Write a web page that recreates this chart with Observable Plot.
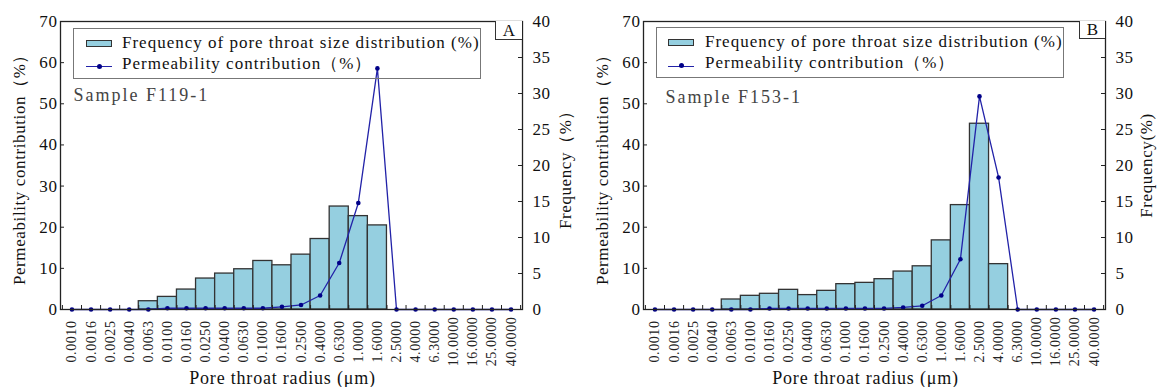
<!DOCTYPE html>
<html>
<head>
<meta charset="utf-8">
<script src="https://cdn.jsdelivr.net/npm/d3@7"></script>
<script src="https://cdn.jsdelivr.net/npm/@observablehq/plot@0.6"></script>
<style>
  body { margin: 0; background: #fff; }
  #wrap { position: relative; width: 1158px; height: 387px; font-family: "Liberation Serif", "Times New Roman", serif; color: #111; overflow: hidden; }
  .panel { position: absolute; top: 0; width: 579px; height: 387px; }
  .abs { position: absolute; box-sizing: border-box; }
  .lbox { border: 1.5px solid #777; background: transparent; }
  .ltxt { font-size: 17px; line-height: 20px; height: 20px; white-space: nowrap; color: #111; letter-spacing: 1px; }
  .sw { background: #95cfe0; border: 1.3px solid #333; }
  .lline { border-top: 1.4px solid #2222a8; height: 0; }
  .ldot { width: 5px; height: 5px; border-radius: 50%; background: #000088; }
  .tag { border-left: 1.2px solid #333; border-bottom: 1.2px solid #333; background: #fff; font-size: 17px; text-align: center; color: #111; }
  svg text { letter-spacing: 0.6px; }
</style>
</head>
<body>
<div id="wrap">
  <div class="panel" id="pA" style="left:0px"></div>
  <div class="panel" id="pB" style="left:579px"></div>
</div>
<script>
// ---- data ----
const categories = ["0.0010","0.0016","0.0025","0.0040","0.0063","0.0100","0.0160","0.0250","0.0400","0.0630","0.1000","0.1600","0.2500","0.4000","0.6300","1.0000","1.6000","2.5000","4.0000","6.3000","10.0000","16.0000","25.0000","40.0000"];
// Sample F119-1
const freqA = [0,0,0,0,1.15,1.75,2.77,4.3,4.99,5.59,6.74,6.14,7.62,9.79,14.3,12.97,11.68,0,0,0,0,0,0,0];
const permA = [0,0,0,0,0,0.3,0.3,0.3,0.3,0.3,0.3,0.65,1.1,3.4,11.3,25.9,58.6,0,0,0,0,0,0,0];
// Sample F153-1
const freqB = [0,0,0,0,1.39,1.9,2.18,2.73,2.0,2.59,3.52,3.7,4.21,5.27,6.0,9.6,14.5,25.8,6.3,0,0,0,0,0];
const permB = [0,0,0,0,0,0,0.25,0.25,0.25,0.25,0.25,0.25,0.25,0.5,0.9,3.4,12.2,51.8,32.1,0,0,0,0,0];
const leftTicks = [0,10,20,30,40,50,60,70];
const rightTicks = [0,5,10,15,20,25,30,35,40];
const legendFreq = "Frequency of pore throat size distribution (%)";
const legendPerm = "Permeability contribution（%）";
const xTitle = "Pore throat radius (μm)";
const yTitle = "Permeability contribution（%）";

const K = 70 / 40; // right (frequency) axis -> left axis units
const BAR = "#95cfe0", LINE = "#2222a8", DOT = "#000088", INK = "#222";

function panel(el, freq, perm, cfg) {
  const W = 579, H = 387, mt = 21, mb = 78;
  const FW = W - cfg.ml - cfg.mr, FH = H - mt - mb;
  const rows = categories.map((c, i) => ({i, cat: c, f: freq[i], p: perm[i]}));
  const bars = rows.filter(d => d.f > 0);
  const bounds = d3.range(0, categories.length + 1).map(i => i - 0.5);

  // legend box and letter tag (HTML, beneath the chart so the data line shows over it)
  const add = (cls, style, text) => {
    const d = document.createElement("div");
    d.className = "abs " + cls;
    Object.assign(d.style, style);
    if (text) d.textContent = text;
    el.appendChild(d);
    return d;
  };

  const chart = Plot.plot({
    width: W, height: H,
    marginLeft: cfg.ml, marginRight: cfg.mr, marginTop: mt, marginBottom: mb,
    style: {fontFamily: '"Liberation Serif", "Times New Roman", serif', fontSize: "17px", color: "#111", background: "transparent", overflow: "visible", position: "absolute", left: "0px", top: "0px"},
    x: {type: "linear", domain: [-0.6, 23.6], axis: null},
    y: {domain: [0, 70], axis: null},
    marks: [
      Plot.rect(bars, {x1: d => d.i - 0.5, x2: d => d.i + 0.5, y1: 0, y2: d => d.f * K, fill: BAR, stroke: "#333", strokeWidth: 1.3}),
      Plot.line(rows, {x: "i", y: "p", stroke: LINE, strokeWidth: 1.3}),
      Plot.dot(rows, {x: "i", y: "p", r: 2.3, fill: DOT, stroke: null}),
      Plot.tickY(leftTicks, {y: d => d, insetRight: FW - 4, stroke: INK}),
      Plot.tickY(rightTicks, {y: d => d * K, insetLeft: FW - 4, stroke: INK}),
      Plot.tickX(bounds, {x: d => d, insetTop: FH - 4, stroke: INK}),
      Plot.frame({stroke: INK, strokeWidth: 1.3}),
      Plot.axisY({anchor: "left", ticks: leftTicks, tickSize: 0, tickPadding: 3, label: null, fontSize: 17}),
      Plot.axisY({anchor: "right", ticks: rightTicks.map(v => v * K), tickFormat: d => String(Math.round(d / K)), tickSize: 0, tickPadding: 10, label: null, fontSize: 17}),
      Plot.text(rows, {x: "i", text: "cat", frameAnchor: "bottom", rotate: -90, textAnchor: "middle", lineAnchor: "middle", dy: 32, fontSize: 14, fill: "#222"}),
      Plot.text([yTitle], {text: d => d, frameAnchor: "left", rotate: -90, textAnchor: "middle", lineAnchor: "middle", dx: -41, fontSize: 17, fill: "#111"}),
      Plot.text([cfg.rTitle], {text: d => d, frameAnchor: "right", rotate: -90, textAnchor: "middle", lineAnchor: "middle", dx: cfg.rdx, fontSize: 17, fill: "#111"}),
      Plot.text([xTitle], {text: d => d, frameAnchor: "bottom", textAnchor: "middle", lineAnchor: "middle", dy: 69, dx: cfg.xdx, fontSize: 18, fill: "#111", style: "letter-spacing:0.8px"}),
      Plot.text([cfg.sample], {text: d => d, frameAnchor: "top-left", textAnchor: "start", lineAnchor: "middle", dx: cfg.sx - cfg.ml, dy: cfg.sy - mt, fontSize: 18, fill: "#444"})
    ]
  });
  chart.querySelectorAll("text").forEach(t => {
    if (t.textContent.startsWith("Sample")) t.style.letterSpacing = "2px";
    if (t.textContent.startsWith("Pore")) t.style.letterSpacing = "0.8px";
  });
  el.appendChild(chart);

  const L = cfg.legend;
  add("lbox", {left: L[0] + "px", top: L[1] + "px", width: L[2] + "px", height: L[3] + "px"});
  add("sw", {left: cfg.swx + "px", top: (cfg.r1 - 3.5) + "px", width: "26px", height: "7px"});
  add("ltxt", {left: cfg.tx + "px", top: (cfg.r1 - 11) + "px"}, legendFreq);
  add("lline", {left: cfg.swx + "px", top: cfg.r2l + "px", width: "26px"});
  add("ldot", {left: (cfg.swx + 10.5) + "px", top: (cfg.r2l - 2.5) + "px"});
  add("ltxt", {left: cfg.tx + "px", top: (cfg.r2 - 11) + "px"}, legendPerm);
  const T = cfg.tag;
  add("tag", {left: T[0] + "px", top: T[1] + "px", width: T[2] + "px", height: T[3] + "px", lineHeight: T[3] + "px"}, cfg.letter);
}

panel(document.getElementById("pA"), freqA, permA, {
  ml: 60, mr: 57, rTitle: "Frequency（%）", rdx: 43, xdx: -9,
  sample: "Sample F119-1", sx: 73, sy: 95,
  legend: [73, 28, 408, 51], swx: 86, tx: 122, r1: 43.5, r2: 64.5, r2l: 66,
  tag: [495, 21, 27, 19], letter: "A"
});
panel(document.getElementById("pB"), freqB, permB, {
  ml: 64, mr: 53, rTitle: "Frequency(%)", rdx: 41, xdx: -9,
  sample: "Sample F153-1", sx: 86, sy: 96.5,
  legend: [77, 27, 408, 51], swx: 89, tx: 126, r1: 42.5, r2: 63.5, r2l: 65.5,
  tag: [500, 21, 26, 17.5], letter: "B"
});
</script>
</body>
</html>
